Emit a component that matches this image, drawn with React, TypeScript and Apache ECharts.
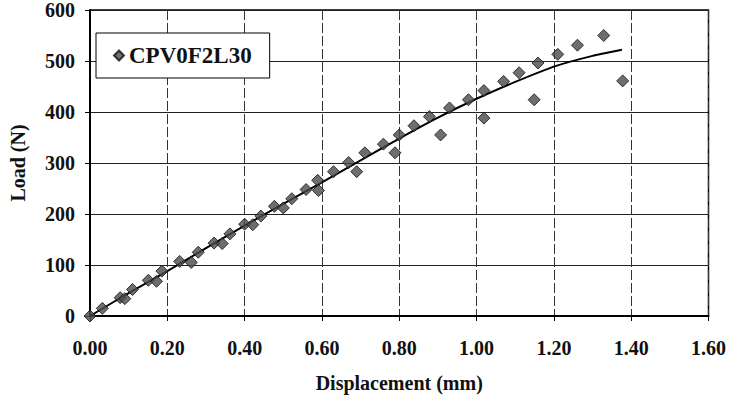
import React, { useEffect, useRef } from "react";
import * as echarts from "echarts";

const seriesName = "CPV0F2L30";

const dispX = [
  0, 0.032, 0.078, 0.09, 0.11, 0.151, 0.172, 0.186, 0.232, 0.262, 0.28, 0.321,
  0.342, 0.362, 0.4, 0.421, 0.442, 0.477, 0.5, 0.522, 0.559, 0.589, 0.591,
  0.63, 0.669, 0.69, 0.711, 0.759, 0.789, 0.8, 0.838, 0.878, 0.907, 0.93,
  0.979, 1.019, 1.019, 1.07, 1.11, 1.149, 1.159, 1.21, 1.261, 1.329, 1.378,
];
const loadY = [
  0, 15, 36, 34, 52, 70, 68, 88, 107, 105, 125, 143, 142, 161, 180, 179, 196,
  215, 212, 230, 248, 266, 246, 283, 301, 283, 320, 337, 320, 355, 373, 391,
  355, 408, 424, 442, 388, 460, 477, 424, 496, 513, 531, 550, 461,
];

const trendX = [0, 0.1, 0.2, 0.3, 0.4, 0.5, 0.6, 0.7, 0.8, 0.9, 1.0, 1.1, 1.2, 1.3, 1.376];
const trendY = [0, 45, 88, 133, 177, 220, 262, 305, 348, 389, 426, 459, 489, 510, 522];

const xTicks = { min: 0, max: 1.6, interval: 0.2 };
const yTicks = { min: 0, max: 600, interval: 100 };

const FONT = "'Liberation Serif', 'Times New Roman', serif";

export default function App() {
  const ref = useRef<HTMLDivElement>(null);
  useEffect(() => {
    if (!ref.current) return;
    const chart = echarts.init(ref.current, null, { renderer: "svg" });
    const scatterData = dispX.map((x, i) => [x, loadY[i]]);
    const trendData = trendX.map((x, i) => [x, trendY[i]]);
    chart.setOption({
      animation: false,
      backgroundColor: "#ffffff",
      grid: {
        left: 83.5,
        right: 20.5,
        top: 8,
        bottom: 79,
        show: true,
        borderColor: "#000",
        borderWidth: 1.5,
        backgroundColor: "transparent",
      },
      legend: {
        data: [{ name: seriesName, icon: "diamond" }],
        left: 96,
        top: 33,
        orient: "vertical",
        itemWidth: 10,
        itemHeight: 10,
        padding: [11, 18, 11, 17],
        borderColor: "#000",
        borderWidth: 1,
        backgroundColor: "#fff",
        textStyle: { fontFamily: FONT, fontSize: 23, fontWeight: "bold", color: "#111" },
      },
      xAxis: {
        type: "value",
        min: xTicks.min,
        max: xTicks.max,
        interval: xTicks.interval,
        name: "Displacement (mm)",
        nameLocation: "middle",
        nameGap: 57,
        nameTextStyle: { fontFamily: FONT, fontSize: 20, fontWeight: "bold", color: "#111" },
        axisLine: { show: true, lineStyle: { color: "#000", width: 2 } },
        axisTick: { show: true, length: 5, lineStyle: { color: "#000", width: 1 } },
        axisLabel: {
          margin: 22,
          fontFamily: FONT,
          fontSize: 20,
          fontWeight: "bold",
          color: "#111",
          formatter: (v: number) => v.toFixed(2),
        },
        splitLine: { show: true, lineStyle: { color: "#333", width: 1, type: [10, 3] } },
      },
      yAxis: {
        type: "value",
        min: yTicks.min,
        max: yTicks.max,
        interval: yTicks.interval,
        name: "Load (N)",
        nameLocation: "middle",
        nameGap: 62,
        nameTextStyle: { fontFamily: FONT, fontSize: 20, fontWeight: "bold", color: "#111" },
        axisLine: { show: true, lineStyle: { color: "#000", width: 2 } },
        axisTick: { show: true, length: 5, lineStyle: { color: "#000", width: 1 } },
        axisLabel: {
          margin: 15,
          fontFamily: FONT,
          fontSize: 20,
          fontWeight: "bold",
          color: "#111",
        },
        splitLine: { show: true, lineStyle: { color: "#222", width: 1 } },
      },
      series: [
        {
          name: "trend",
          type: "line",
          data: trendData,
          smooth: 0.15,
          showSymbol: false,
          symbol: "none",
          lineStyle: { color: "#000", width: 2 },
          z: 3,
        },
        {
          name: seriesName,
          type: "scatter",
          data: scatterData,
          symbol: "diamond",
          symbolSize: 12,
          itemStyle: { color: "#4a4a4a", borderColor: "#111", borderWidth: 1 },
          z: 4,
        },
      ],
    });
    return () => chart.dispose();
  }, []);
  return (
    <div
      ref={ref}
      style={{ position: "fixed", left: 0, top: 0, width: 729, height: 398, background: "#fff" }}
    />
  );
}
